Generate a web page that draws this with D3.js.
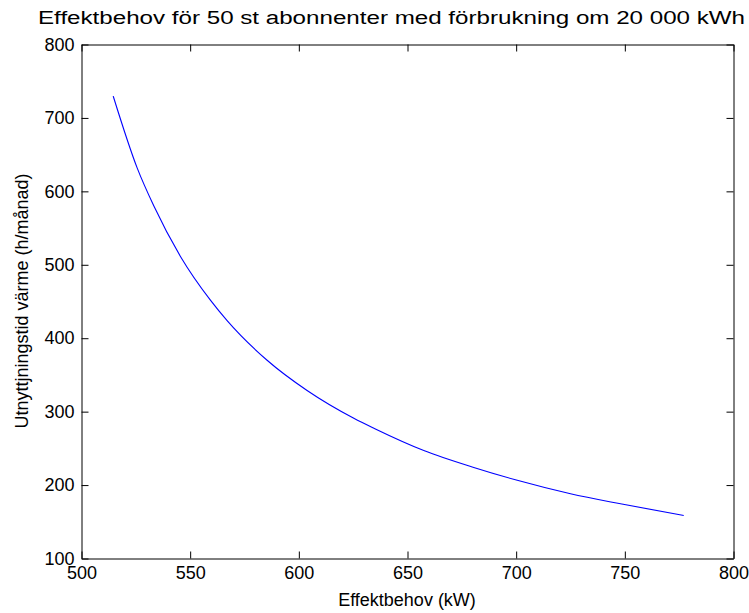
<!DOCTYPE html>
<html>
<head>
<meta charset="utf-8">
<script src="https://cdn.jsdelivr.net/npm/d3@7"></script>
<style>
  body { margin: 0; background: #fff; }
  text { font-family: "Liberation Sans", Arial, sans-serif; fill: #000; }
</style>
</head>
<body>
<div id="chart"></div>
<script>
// values
const effekt = [514.6, 525.6, 533.3, 545.6, 559.4, 567.0, 585.4, 603.8,
    625.3, 634.5, 657.5, 680.5, 700.5, 725.0, 748.0, 777.1];
const utnyttjning = [729.6, 632, 580, 511, 451.5, 424, 370, 328.8,
    291, 277.5, 247.1, 224, 206.5, 188.2, 174.5, 158.6];

const xTicks = [500, 550, 600, 650, 700, 750, 800];
const yTicks = [100, 200, 300, 400, 500, 600, 700, 800];

const titleText = "Effektbehov för 50 st abonnenter med förbrukning om 20 000 kWh";
const xLabel = "Effektbehov (kW)";
const yLabel = "Utnyttjningstid värme (h/månad)";

const width = 749, height = 613;
const margin = { top: 44, right: 16, bottom: 55, left: 81 };
const plot_w = width - margin.left - margin.right;
const plot_h = height - margin.top - margin.bottom;

const svg = d3.select("#chart").append("svg")
    .attr("width", width)
    .attr("height", height);

const g = svg.append("g")
    .attr("transform", `translate(${margin.left + 0.5},${margin.top + 0.5})`);

const x = d3.scaleLinear().domain([500, 800]).range([0, plot_w]);
const y = d3.scaleLinear().domain([100, 800]).range([plot_h, 0]);

const tick = 7;

// bottom + left carry labels, top + right only ticks (box)
g.append("g")
    .attr("transform", `translate(0,${plot_h})`)
    .call(d3.axisBottom(x).tickValues(xTicks).tickSizeInner(-tick).tickSizeOuter(0).tickPadding(8));
g.append("g")
    .call(d3.axisLeft(y).tickValues(yTicks).tickSizeInner(-tick).tickSizeOuter(0).tickPadding(7));
g.append("g")
    .call(d3.axisTop(x).tickValues(xTicks).tickSizeInner(-tick).tickSizeOuter(0).tickFormat(""));
g.append("g")
    .attr("transform", `translate(${plot_w},0)`)
    .call(d3.axisRight(y).tickValues(yTicks).tickSizeInner(-tick).tickSizeOuter(0).tickFormat(""));

g.selectAll(".domain, .tick line").attr("stroke", "#000");
g.selectAll(".tick text").attr("font-size", 18).attr("font-family", null);

// curve
const points = effekt.map((v, i) => [v, utnyttjning[i]]);
g.append("path")
    .datum(points)
    .attr("fill", "none")
    .attr("stroke", "#0000ff")
    .attr("stroke-width", 1.1)
    .attr("d", d3.line().x(d => x(d[0])).y(d => y(d[1])).curve(d3.curveMonotoneX));

// title + axis labels
svg.append("text")
    .attr("x", 38)
    .attr("y", 24)
    .attr("font-size", 18)
    .attr("textLength", 707)
    .attr("lengthAdjust", "spacingAndGlyphs")
    .text(titleText);

svg.append("text")
    .attr("x", margin.left + plot_w / 2)
    .attr("y", 606)
    .attr("text-anchor", "middle")
    .attr("font-size", 18)
    .text(xLabel);

svg.append("text")
    .attr("transform", `translate(28,${margin.top + plot_h / 2}) rotate(-90)`)
    .attr("text-anchor", "middle")
    .attr("font-size", 18)
    .text(yLabel);
</script>
</body>
</html>
